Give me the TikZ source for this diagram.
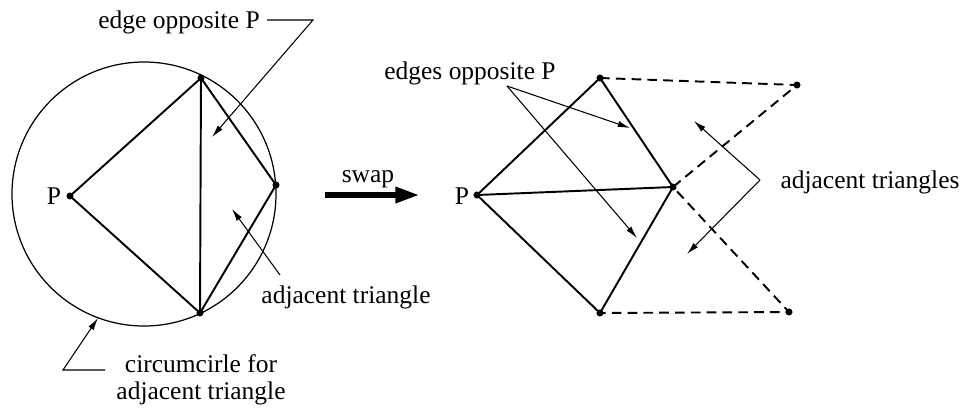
\documentclass[tikz,border=0pt]{standalone}
\usepackage{fontspec}
\setmainfont{Liberation Serif}
\usetikzlibrary{arrows.meta}

\begin{document}
\begin{tikzpicture}[x=0.02cm,y=-0.02cm,
    font=\fontsize{14.5}{19.4}\selectfont,
    edge/.style={line width=1.1pt},
    ghost/.style={line width=1.1pt,dash pattern=on 5.5pt off 3.5pt},
    lead/.style={line width=0.6pt,-{Latex[length=7pt,width=3.6pt]}},
    lbl/.style={anchor=base,inner sep=0pt}]
\useasboundingbox (0,0) rectangle (965,407);

% before the swap
\coordinate (cc) at (144,194);
\coordinate (lP) at (70,196);
\coordinate (lT) at (201,78);
\coordinate (lR) at (276,185);
\coordinate (lB) at (200,313);
\draw[line width=0.7pt] (cc) circle (132);
\draw[edge] (lT) -- (lP) -- (lB) -- (lT) -- (lR) -- (lB);
\foreach \v in {lP,lT,lR,lB} \fill (\v) circle (2pt);

\node[lbl] (lPl) at (54,204) {P};
\node[lbl] (eop) at (179,28) {edge opposite P};
\coordinate (eopa) at (267,20);
\coordinate (eopk) at (313,20);
\coordinate (eopt) at (212,137);
\draw[lead] (eopa) -- (eopk) -- (eopt);

\node[lbl] (adj) at (346,303) {adjacent triangle};
\coordinate (adja) at (280,275);
\coordinate (adjt) at (232,209);
\draw[lead] (adja) -- (adjt);

\node[lbl] (cc1) at (201,372) {circumcirle for};
\node[lbl] (cc2) at (201,399) {adjacent triangle};
\coordinate (ccla) at (105,370);
\coordinate (cclk) at (63,370);
\coordinate (cclt) at (98,318);
\draw[lead] (ccla) -- (cclk) -- (cclt);

% swap
\node[lbl] (swl) at (368,182) {swap};
\coordinate (sw1) at (325,195);
\coordinate (sw2) at (420,195);
\draw[line width=3.6pt,-{Triangle[length=14pt,width=8.5pt]}] (sw1) -- (sw2);

% after the swap
\coordinate (rP) at (477,195);
\coordinate (rT) at (600,78);
\coordinate (rM) at (673,187);
\coordinate (rB) at (600,313);
\coordinate (rFT) at (797,85);
\coordinate (rFB) at (789,312);
\draw[edge] (rT) -- (rP) -- (rB) -- (rM) -- (rT);
\draw[edge] (rP) -- (rM);
\draw[ghost] (rT) -- (rFT) -- (rM) -- (rFB) -- (rB);
\foreach \v in {rP,rT,rM,rB,rFT,rFB} \fill (\v) circle (2pt);

\node[lbl] (rPl) at (462,204) {P};
\node[lbl] (eops) at (470,79) {edges opposite P};
\coordinate (eopsa) at (507,86);
\coordinate (eopst) at (630,128);
\coordinate (eopsb) at (637,238);
\draw[lead] (eopsa) -- (eopst);
\draw[lead] (eopsa) -- (eopsb);

\node[lbl] (adjs) at (870,188) {adjacent triangles};
\coordinate (adjsa) at (760,180);
\coordinate (adjst) at (694,121);
\coordinate (adjsb) at (687,254);
\draw[lead] (adjsa) -- (adjst);
\draw[lead] (adjsa) -- (adjsb);
\end{tikzpicture}
\end{document}
